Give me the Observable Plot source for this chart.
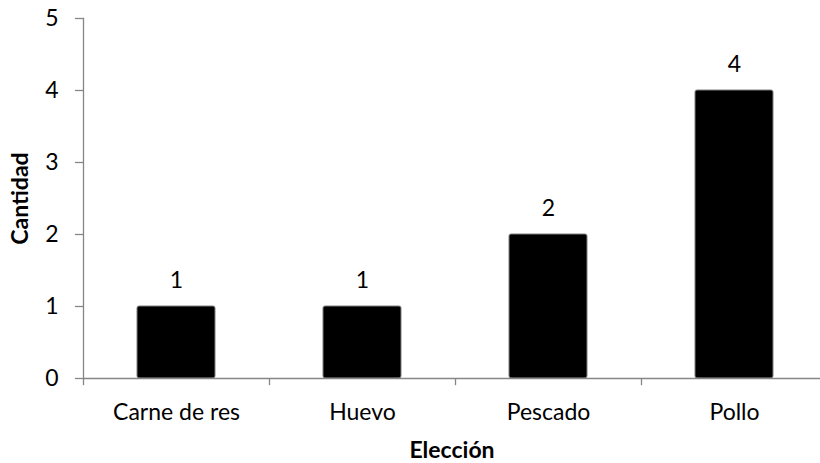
<!DOCTYPE html>
<html>
<head>
<meta charset="utf-8">
<script src="https://cdn.jsdelivr.net/npm/d3@7"></script>
<script src="https://cdn.jsdelivr.net/npm/@observablehq/plot@0.6"></script>
<style>
  html, body { margin: 0; padding: 0; background: #fff; }
  #chart svg { display: block; }
</style>
</head>
<body>
<div id="chart"></div>
<script>
// Food choices and how many people picked each one
const categories = ["Carne de res", "Huevo", "Pescado", "Pollo"];
const counts = [1, 1, 2, 4];
const yTicks = [0, 1, 2, 3, 4, 5];

const data = categories.map((c, i) => ({eleccion: c, cantidad: counts[i]}));

const font = "Lato, 'Open Sans', sans-serif";
const axisColor = "#868686";
const xRange = [83.5, 827.5];
const step = (xRange[1] - xRange[0]) / categories.length;

const chart = Plot.plot({
  width: 820,
  height: 463,
  marginLeft: 83,
  marginRight: 0,
  marginTop: 18,
  marginBottom: 85,
  style: {fontFamily: font, color: "#000", background: "#fff"},
  x: {domain: categories, range: xRange, paddingInner: 0.58, paddingOuter: 0.29},
  y: {domain: [0, 5]},
  marks: [
    // value axis with tick labels
    Plot.axisY({
      ticks: yTicks,
      tickFormat: d3.format("d"),
      tickSize: 8,
      tickPadding: 17,
      stroke: axisColor,
      strokeWidth: 1.3,
      fontSize: 23,
      fill: "#000",
      label: null
    }),
    Plot.frame({anchor: "left", stroke: axisColor, strokeWidth: 1.3}),
    // category labels
    Plot.axisX({
      tickSize: 0,
      tickPadding: 25,
      fontSize: 23,
      fill: "#000",
      label: null
    }),
    // tick marks between categories
    Plot.ruleX(categories, {x: (d) => d, dx: -step / 2, y1: 0, y2: -0.1, stroke: axisColor, strokeWidth: 1.3}),
    Plot.barY(data, {
      x: "eleccion",
      y: "cantidad",
      fill: "#000",
      stroke: "#7f7f7f",
      strokeWidth: 1,
      rx: 2
    }),
    Plot.ruleY([0], {stroke: axisColor, strokeWidth: 1.3}),
    // value labels above the bars
    Plot.text(data, {
      x: "eleccion",
      y: "cantidad",
      text: (d) => String(d.cantidad),
      lineAnchor: "bottom",
      dy: -19,
      fontSize: 23,
      fill: "#000"
    }),
    // axis titles
    Plot.text(["Elección"], {
      frameAnchor: "bottom",
      textAnchor: "middle",
      lineAnchor: "bottom",
      dy: 79,
      fontSize: 23,
      fontWeight: "bold",
      fill: "#000"
    }),
    Plot.text(["Cantidad"], {
      frameAnchor: "left",
      textAnchor: "middle",
      rotate: -90,
      dx: -63,
      lineAnchor: "middle",
      fontSize: 23,
      fontWeight: "bold",
      fill: "#000"
    })
  ]
});

document.getElementById("chart").appendChild(chart);
</script>
</body>
</html>
